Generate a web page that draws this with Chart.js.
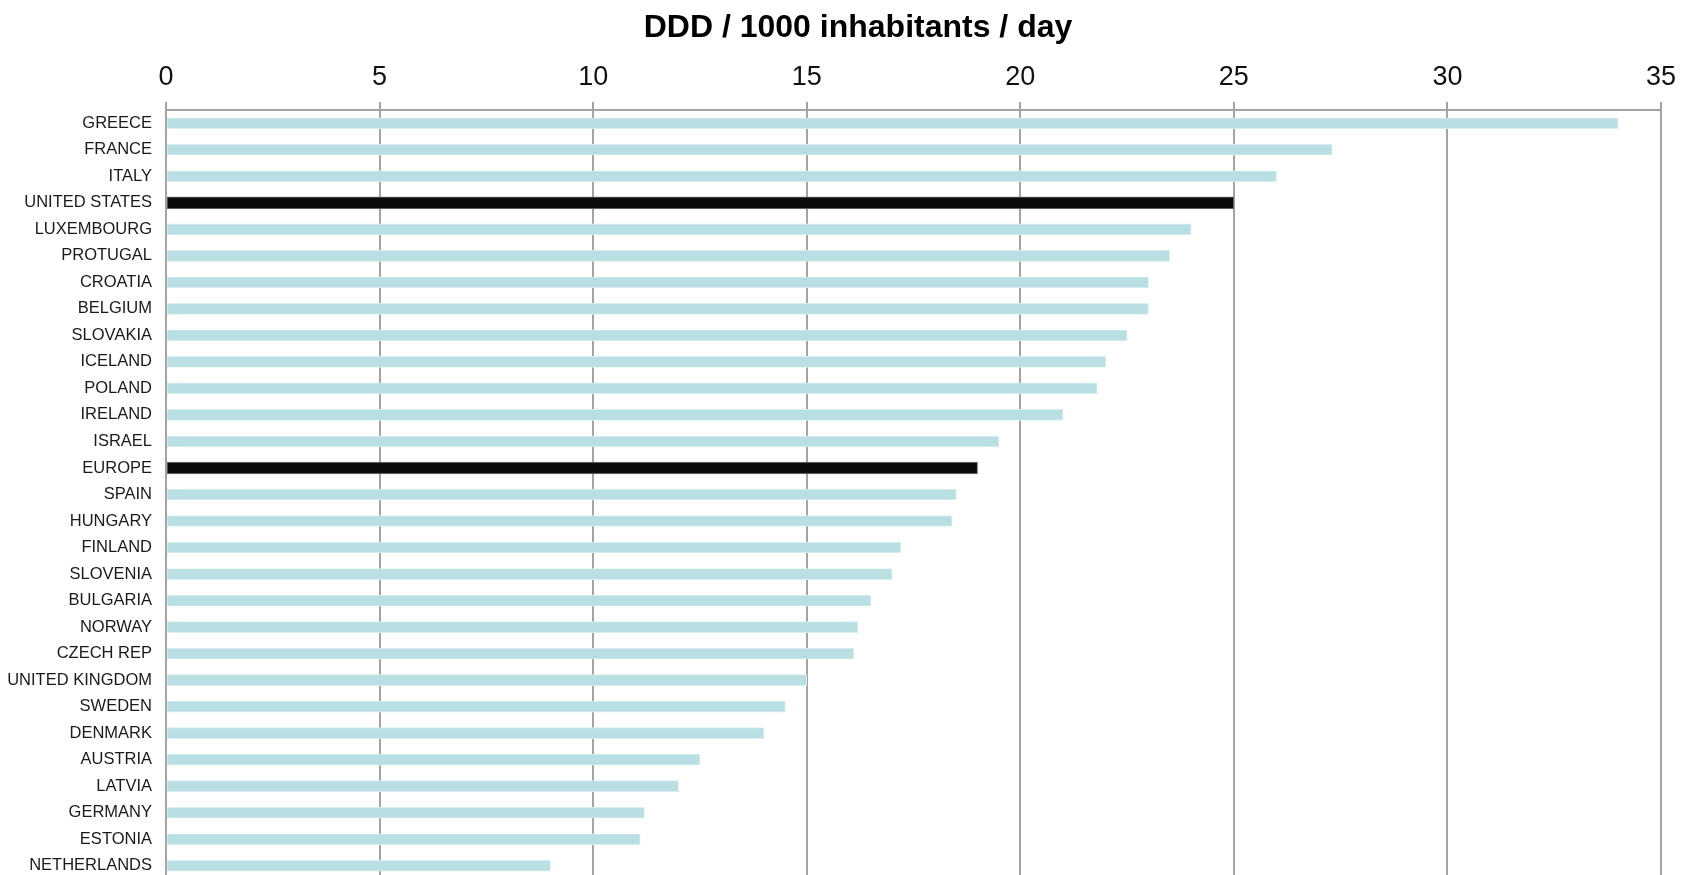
<!DOCTYPE html>
<html>
<head>
<meta charset="utf-8">
<script src="https://cdn.jsdelivr.net/npm/chart.js@4/dist/chart.umd.min.js"></script>
<style>
  html, body { margin: 0; padding: 0; background: #ffffff; overflow: hidden; }
  #wrap { position: relative; width: 1689px; height: 875px; overflow: hidden; }
  #title {
    position: absolute; top: 10px; left: 858px; transform: translateX(-50%);
    white-space: nowrap; font-family: "Liberation Sans", Arial, sans-serif;
    font-weight: bold; font-size: 32px; line-height: 32px; color: #000;
  }
  canvas { position: absolute; left: 0; top: 0; }
</style>
</head>
<body>
<div id="wrap">
  <canvas id="chart" width="1689" height="879" style="width:1689px;height:879px"></canvas>
  <div id="title">DDD / 1000 inhabitants / day</div>
</div>
<script>
// Countries, top to bottom
const countries = [
  "GREECE", "FRANCE", "ITALY", "UNITED STATES", "LUXEMBOURG", "PROTUGAL",
  "CROATIA", "BELGIUM", "SLOVAKIA", "ICELAND", "POLAND", "IRELAND", "ISRAEL",
  "EUROPE", "SPAIN", "HUNGARY", "FINLAND", "SLOVENIA", "BULGARIA", "NORWAY",
  "CZECH REP", "UNITED KINGDOM", "SWEDEN", "DENMARK", "AUSTRIA", "LATVIA",
  "GERMANY", "ESTONIA", "NETHERLANDS"
];

// DDD per 1000 inhabitants per day
const ddd = [
  34.0, 27.3, 26.0, 25.0, 24.0, 23.5,
  23.0, 23.0, 22.5, 22.0, 21.8, 21.0, 19.5,
  19.0, 18.5, 18.4, 17.2, 17.0, 16.5, 16.2,
  16.1, 15.0, 14.5, 14.0, 12.5, 12.0,
  11.2, 11.1, 9.0
];

// Reference entries shown in black
const highlighted = ["UNITED STATES", "EUROPE"];

// Value axis ticks
const xTicks = [0, 5, 10, 15, 20, 25, 30, 35];

const isHi = c => highlighted.includes(c);
const regular = ddd.map((v, i) => isHi(countries[i]) ? null : v);
const marked = ddd.map((v, i) => isHi(countries[i]) ? v : null);

const gridGrey = "#a3a3a3";

new Chart(document.getElementById("chart"), {
  type: "bar",
  data: {
    labels: countries,
    datasets: [
      {
        data: regular,
        backgroundColor: "#badfe3",
        borderColor: "#d9eef0",
        borderWidth: 1,
        borderSkipped: false,
        barThickness: 11,
        grouped: false
      },
      {
        data: marked,
        backgroundColor: "#0b0b0b",
        borderColor: "#7a7a7a",
        borderWidth: 1,
        borderSkipped: false,
        barThickness: 12,
        grouped: false
      }
    ]
  },
  options: {
    indexAxis: "y",
    responsive: false,
    animation: false,
    layout: { padding: { top: 0, left: 0, right: 28, bottom: 0 } },
    plugins: {
      legend: { display: false },
      tooltip: { enabled: false },
      title: { display: false }
    },
    scales: {
      x: {
        position: "top",
        min: xTicks[0],
        max: xTicks[xTicks.length - 1],
        z: 1,
        afterBuildTicks: s => { s.ticks = xTicks.map(v => ({ value: v })); },
        afterFit: s => { s.height = 110; },
        grid: {
          color: gridGrey,
          lineWidth: 2,
          drawTicks: true,
          tickLength: 8,
          tickColor: gridGrey
        },
        border: { display: true, color: gridGrey, width: 2 },
        ticks: {
          padding: 8,
          color: "#111",
          font: { family: "'Liberation Sans', Arial, sans-serif", size: 27 }
        }
      },
      y: {
        afterFit: s => { s.width = 166; s.paddingTop = 0; s.paddingBottom = 0; },
        grid: { display: false, drawTicks: false },
        border: { display: true, color: gridGrey, width: 2 },
        ticks: {
          padding: 14,
          autoSkip: false,
          color: "#1a1a1a",
          font: { family: "'Liberation Sans', Arial, sans-serif", size: 16.5 }
        }
      }
    }
  }
});
</script>
</body>
</html>
